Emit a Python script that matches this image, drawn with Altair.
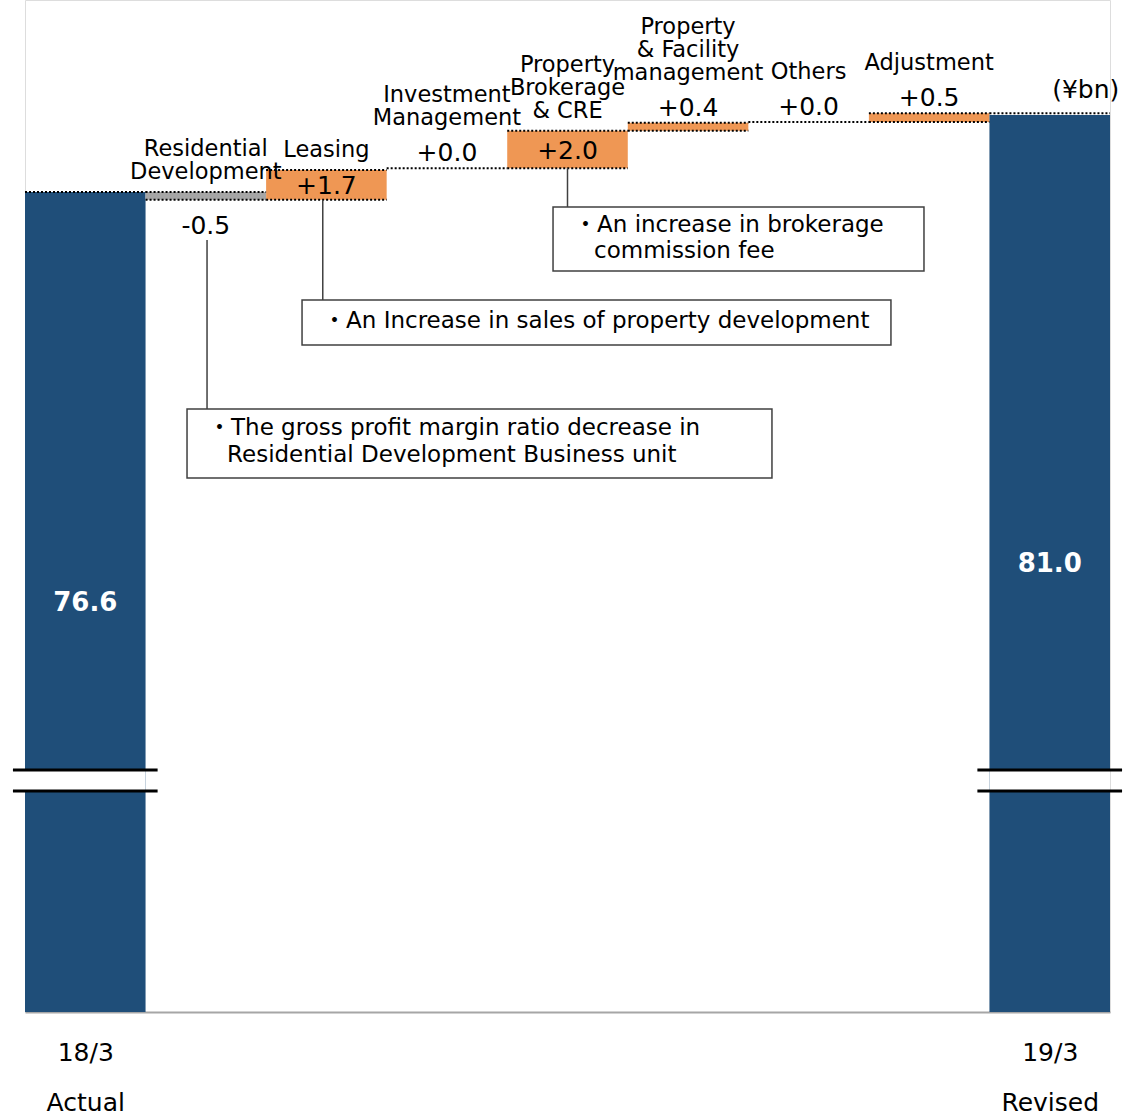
import altair as alt
import pandas as pd

# ---------------- data ----------------
categories = ["18/3 Actual", "Residential Development", "Leasing", "Investment Management",
              "Property Brokerage & CRE", "Property & Facility management", "Others",
              "Adjustment", "19/3 Revised"]
kinds = ["total", "decrease", "increase", "flat", "increase", "increase", "flat", "increase", "total"]
bar_low = [None, 76.15, 76.15, 77.95, 77.95, 80.1, 80.6, 80.6, None]
bar_high = [76.6, 76.6, 77.85, 77.95, 80.1, 80.55, 80.6, 81.1, 81.0]
value_labels = ["76.6", "-0.5", "+1.7", "+0.0", "+2.0", "+0.4", "+0.0", "+0.5", "81.0"]
label_lines = [[], ["Residential", "Development"], ["Leasing"], ["Investment", "Management"],
               ["Property", "Brokerage", "& CRE"], ["Property", "& Facility", "management"],
               ["Others"], ["Adjustment"], []]
x_tick_labels = [["18/3", "Actual"], [], [], [], [], [], [], [], ["19/3", "Revised"]]
unit_label = "(¥bn)"

# annotation boxes (data coordinates)
box_x0 = [3.88, 1.798, 0.844]
box_x1 = [6.957, 6.683, 5.696]
box_y0 = [72.08, 67.85, 60.26]
box_y1 = [75.74, 70.43, 64.2]
leader_x = [4.0, 1.97, 1.01]
leader_from = [77.95, 76.15, 73.85]
note_text = ["・An increase in brokerage", "commission fee",
             "・An Increase in sales of property development",
             "・The gross profit margin ratio decrease in",
             "Residential Development Business unit"]
note_x = [4.054, 4.22, 1.972, 1.018, 1.176]
note_y = [74.71, 73.23, 69.23, 63.11, 61.57]

# axis break (value range hidden)
break_lines = [43.57, 42.37]

# ---------------- scales / styles ----------------
Y_MIN, Y_MAX = 29.74, 87.57
W, H = 1085, 1012
FONT = "DejaVu Sans, Noto Sans CJK JP"
LINE_H = 23
colors = {"total": "#1F4E79", "decrease": "#A6A6A6", "increase": "#EF9754", "flat": "#EF9754"}

rows = []
for i, c in enumerate(categories):
    low = bar_low[i] if bar_low[i] is not None else Y_MIN
    high = bar_high[i]
    k = kinds[i]
    if k == "total":
        pos = "total"
    elif k == "decrease":
        pos = "below"
    elif high - low >= 1:
        pos = "inside"
    else:
        pos = "above"
    rows.append(dict(cat=c, idx=i, x0=i - 0.5, x1=i + 0.5, low=low, high=high,
                     mid=(low + high) / 2, kind=k, pos=pos, value=value_labels[i]))
df = pd.DataFrame(rows)

# category label lines, one row per line (k = line index counted from bottom)
lab_rows = []
for i, lines in enumerate(label_lines):
    n = len(lines)
    for j, t in enumerate(lines):
        lab_rows.append(dict(idx=i, high=bar_high[i], pos=df.loc[i, "pos"], k=n - 1 - j, t=t))
labs = pd.DataFrame(lab_rows)

# dotted level lines
dots = []
for i, r in df.iterrows():
    if r["kind"] == "total":
        lvl = bar_high[i - 1] if i > 0 else r["high"]
        dots.append(dict(x0=r["x0"], x1=r["x1"], y=lvl))
    else:
        for lvl in sorted(set([r["low"], r["high"]])):
            dots.append(dict(x0=r["x0"], x1=r["x1"], y=lvl))
dots = pd.DataFrame(dots)

xs = alt.Scale(domain=[-0.5, 8.5], nice=False, zero=False)
ys = alt.Scale(domain=[Y_MIN, Y_MAX], nice=False, zero=False)

tick_vals = [i for i, t in enumerate(x_tick_labels) if t]
expr_parts = []
for i in tick_vals:
    arr = "[" + ",".join("'" + s + "'" for s in x_tick_labels[i]) + "]"
    expr_parts.append(f"datum.value == {i} ? {arr} : ")
label_expr = "".join(expr_parts) + "''"

base = alt.Chart(df)

bars = base.transform_filter("datum.kind != 'flat'").mark_bar().encode(
    x=alt.X("x0:Q", scale=xs, axis=alt.Axis(
        values=tick_vals, labelExpr=label_expr, title=None, ticks=False, grid=False,
        domainColor="#A6A6A6", domainWidth=2, labelFontSize=25, labelFont=FONT,
        labelColor="#000000", labelLineHeight=50, labelPadding=28, labelFlush=False,
        labelOverlap=False, labelBound=False)),
    x2="x1:Q",
    y=alt.Y("low:Q", scale=ys, axis=None),
    y2="high:Q",
    color=alt.Color("kind:N", scale=alt.Scale(domain=list(colors.keys()),
                                              range=list(colors.values())), legend=None),
)

totals = df[df["kind"] == "total"].copy()
gap = alt.Chart(totals).mark_rect(color="white").encode(
    x=alt.X("x0:Q", scale=xs), x2="x1:Q",
    y=alt.datum(break_lines[1], scale=ys), y2=alt.datum(break_lines[0]))
break_rules = [
    alt.Chart(totals).mark_rule(color="black", strokeWidth=3).encode(
        x=alt.X("lx:Q", scale=xs), x2="rx:Q", y=alt.datum(b, scale=ys)
    ).transform_calculate(lx="datum.idx - 0.6", rx="datum.idx + 0.6")
    for b in break_lines
]

dotted = alt.Chart(dots).mark_rule(color="black", strokeWidth=2, strokeDash=[2, 2]).encode(
    x=alt.X("x0:Q", scale=xs), x2="x1:Q", y=alt.Y("y:Q", scale=ys))

# category labels: one layer per (group, line index)
cat_layers = []
max_lines = max(len(l) for l in label_lines)
for grp, base_dy in (("in", -8), ("above", -38)):
    cond = "datum.pos == 'above'" if grp == "above" else "datum.pos != 'above'"
    for k in range(max_lines):
        cat_layers.append(
            alt.Chart(labs).transform_filter(f"{cond} && datum.k == {k}").mark_text(
                font=FONT, fontSize=22.5, baseline="bottom", dy=base_dy - k * LINE_H,
                color="black").encode(
                x=alt.X("idx:Q", scale=xs), y=alt.Y("high:Q", scale=ys), text="t:N"))

val_total = base.transform_filter("datum.pos == 'total'").mark_text(
    font=FONT, fontSize=26, fontWeight="bold", color="white", baseline="middle", dy=1).encode(
    x=alt.X("idx:Q", scale=xs), y=alt.Y("mid:Q", scale=ys), text="value:N")
val_inside = base.transform_filter("datum.pos == 'inside'").mark_text(
    font=FONT, fontSize=25, color="black", baseline="middle", dy=1).encode(
    x=alt.X("idx:Q", scale=xs), y=alt.Y("mid:Q", scale=ys), text="value:N")
val_above = base.transform_filter("datum.pos == 'above'").mark_text(
    font=FONT, fontSize=25, color="black", baseline="middle", dy=-15).encode(
    x=alt.X("idx:Q", scale=xs), y=alt.Y("high:Q", scale=ys), text="value:N")
val_below = base.transform_filter("datum.pos == 'below'").mark_text(
    font=FONT, fontSize=25, color="black", baseline="middle", dy=26).encode(
    x=alt.X("idx:Q", scale=xs), y=alt.Y("low:Q", scale=ys), text="value:N")

unit = alt.Chart(df[df["idx"] == len(categories) - 1]).mark_text(
    font=FONT, fontSize=25, color="black", baseline="middle", dx=36, dy=-25).encode(
    x=alt.X("idx:Q", scale=xs), y=alt.Y("high:Q", scale=ys), text=alt.value(unit_label))

boxes_df = pd.DataFrame(dict(x0=box_x0, x1=box_x1, y0=box_y0, y1=box_y1,
                             lx=leader_x, lf=leader_from))
leaders = alt.Chart(boxes_df).mark_rule(color="#404040", strokeWidth=1.5).encode(
    x=alt.X("lx:Q", scale=xs), y=alt.Y("lf:Q", scale=ys), y2="y1:Q")
boxes = alt.Chart(boxes_df).mark_rect(fill="white", stroke="#404040", strokeWidth=1.5).encode(
    x=alt.X("x0:Q", scale=xs), x2="x1:Q", y=alt.Y("y0:Q", scale=ys), y2="y1:Q")
notes_df = pd.DataFrame(dict(t=note_text, x=note_x, y=note_y))
notes = alt.Chart(notes_df).mark_text(font=FONT, fontSize=23, color="black", align="left",
                                      baseline="middle").encode(
    x=alt.X("x:Q", scale=xs), y=alt.Y("y:Q", scale=ys), text="t:N")

chart = alt.layer(bars, gap, *break_rules, dotted, leaders, boxes, notes,
                  *cat_layers, val_total, val_inside, val_above, val_below, unit).properties(
    width=W, height=H,
    autosize=alt.AutoSizeParams(type="none"),
    padding={"left": 25, "top": 0, "right": 14, "bottom": 104},
).configure_view(stroke=None).configure(background="white")

chart.save("out.html", embed_options={"renderer": "svg", "actions": False})
